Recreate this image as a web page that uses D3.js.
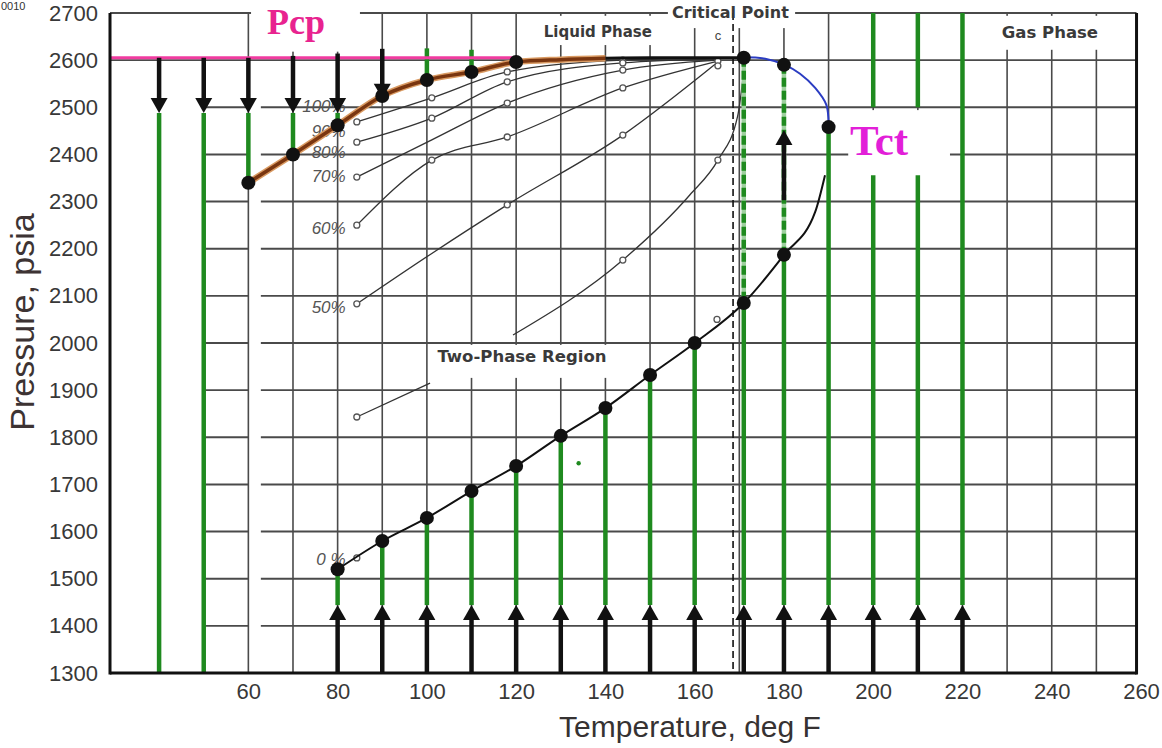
<!DOCTYPE html>
<html><head><meta charset="utf-8">
<script src="https://cdn.jsdelivr.net/npm/d3@7/dist/d3.min.js"></script>
<style>body{margin:0;background:#fff}svg{display:block}</style>
</head><body>
<svg id="chart" width="1162" height="748"></svg>
<script>
// ---------- data ----------
const xTicks = [60,80,100,120,140,160,180,200,220,240,260];
const yTicks = [1300,1400,1500,1600,1700,1800,1900,2000,2100,2200,2300,2400,2500,2600,2700];
const gridT = [60,70,80,90,100,110,120,130,140,150,160,170,180,190,200,210,220,230,240,250];
const gridP = [1400,1500,1600,1700,1800,1900,2000,2100,2200,2300,2400,2500];

const pcpP = 2605;
const bubbleT = [60,70,80,90,100,110,120];
const bubbleP = [2340,2400,2462,2524,2558,2575,2596];
const bubbleTailT = [120,130,140];
const bubbleTailP = [2596,2601,2604];
const critTailT = [140,150,160,171];
const critTailP = [2604,2605,2605,2605];
const critT = 171, critP = 2605;

const dewUpperT = [171,175.8,180.2,183.6,187,189.5,190];
const dewUpperP = [2606,2603,2590,2571,2541,2505,2458];
const dewT = [80,90,100,110,120,130,140,150,160,171,180,187,189.2];
const dewP = [1520,1580,1629,1686,1739,1803,1862,1932,2000,2085,2187,2278,2356];
const dewDotT = [80,90,100,110,120,130,140,150,160,171,180,180,190];
const dewDotP = [1520,1580,1629,1686,1739,1803,1862,1932,2000,2085,2187,2590,2458];

const qT = [84.3,101.1,118,143.9,165.2];
const q90P = [2469,2520,2575,2600,2604];
const q80P = [2426,2477,2554,2594,2602];
const q70P = [2352,2431,2509,2579,2600];
const q60P = [2250,2388,2437,2541,2598];
const q50P = [2083,2190,2293,2441,2596];
const q40aT = [84.3,100.7], q40aP = [1843,1915];
const q40bT = [119.3,143.9,158.9,165.2,169.6,170.8], q40bP = [2017,2176,2314,2388,2480,2560];
const markT = [84.3,84.3,84.3,84.3,84.3,84.3,84.3,101.1,101.1,101.1,118,118,118,118,118,143.9,143.9,143.9,143.9,143.9,143.9,165.2,165.2,165.2,165];
const markP = [2469,2426,2352,2250,2083,1843,1544,2520,2477,2388,2575,2554,2509,2437,2293,2600,2594,2579,2541,2441,2176,2598,2588,2388,2050];
const qLabels = ["100%","90%","80%","70%","60%","50%","0 %"];
const qLabelP = [2490,2437,2392,2342,2231,2064,1529];

const downColT = [40,50,60,70,80,90];
const downStartP = [2605,2605,2605,2609,2614,2624];
const downTipP = [2488,2488,2488,2488,2488,2518];
const downGreenBotP = [1300,1300,2340,2400,2462,2518];
const shortGreenT = [100,110], shortGreenTopP = [2625,2622], shortGreenBotP = [2558,2575];
const upColT = [80,90,100,110,120,130,140,150,160,171,180,190,200,210,220];
const upColTopP = [1520,1580,1629,1686,1739,1803,1862,1932,2000,2085,2187,2458,2356,2356,2700];
const upTipP = 1444;
const dashColT = [171,180], dashColTopP = [2605,2590], dashColBotP = [2085,2187];
const topGreenT = [200,210], topGreenTopP = 2700, topGreenBotP = 2500;
const midArrowT = 180, midArrowFromP = 2303, midArrowTipP = 2452;
const dashedLineT = 168.6;

// ---------- scales ----------
const svg = d3.select('#chart');
const x = d3.scaleLinear().domain([29,260]).range([110,1141]);
const y = d3.scaleLinear().domain([1300,2700]).range([673,13]);
const Tmin = 29, Tmax = 259, Pmin = 1300, Pmax = 2700;
const zip = (T,P) => T.map((t,i)=>[t,P[i]]);
const line = d3.line().x(d=>x(d[0])).y(d=>y(d[1])).curve(d3.curveMonotoneX);
const GREEN = '#1f8a1f', GRID = '#4a4a4a', SANS = "'Liberation Sans', Arial, sans-serif";
const WIDE = "'DejaVu Sans', Verdana, sans-serif";
const SERIF = "'Liberation Serif','Times New Roman',serif";

// ---------- grid ----------
const grid = svg.append('g');
grid.selectAll('.vg').data(gridT).join('line')
  .attr('x1',d=>x(d)).attr('x2',d=>x(d)).attr('y1',y(Pmax)).attr('y2',y(Pmin))
  .attr('stroke',GRID).attr('stroke-width',1.6);
const hSegs = [];
gridP.forEach(p=>{ hSegs.push([p,50,60]); hSegs.push([p,62.8,Tmax]); });
hSegs.push([2600,Tmin,Tmax]); hSegs.push([2700,Tmin,Tmax]);
grid.selectAll('.hg').data(hSegs).join('line')
  .attr('x1',d=>x(d[1])).attr('x2',d=>x(d[2])).attr('y1',d=>y(d[0])).attr('y2',d=>y(d[0]))
  .attr('stroke',GRID).attr('stroke-width',1.9);

// knockouts (white areas behind annotations)
const knock = [[60.6,85,2718,2618],[124.9,152.2,2694,2632],[154,182.5,2721,2668],
               [225,257.5,2694,2622],[194.4,217.2,2494,2354],[100.7,141.5,1996,1926]];
svg.append('g').selectAll('rect').data(knock).join('rect')
  .attr('x',d=>x(d[0])).attr('width',d=>x(d[1])-x(d[0]))
  .attr('y',d=>y(d[2])).attr('height',d=>y(d[3])-y(d[2])).attr('fill','#fff');

// dashed vertical
svg.append('line').attr('x1',x(dashedLineT)).attr('x2',x(dashedLineT))
  .attr('y1',y(Pmax)).attr('y2',y(Pmin)).attr('stroke','#111').attr('stroke-width',1.6)
  .attr('stroke-dasharray','7,4');

// ---------- quality lines ----------
const ql = svg.append('g').attr('fill','none').attr('stroke','#333').attr('stroke-width',1.3);
[q90P,q80P,q70P,q60P,q50P].forEach(P=>ql.append('path').attr('d',line(zip(qT,P))));
ql.append('path').attr('d',line(zip(q40aT,q40aP)));
ql.append('path').attr('d',line(zip(q40bT,q40bP)));
svg.append('g').selectAll('circle').data(zip(markT,markP)).join('circle')
  .attr('cx',d=>x(d[0])).attr('cy',d=>y(d[1])).attr('r',3)
  .attr('fill','#fff').attr('stroke','#555').attr('stroke-width',1.3);
svg.append('g').selectAll('text').data(qLabels).join('text')
  .attr('x',x(81.8)).attr('y',(d,i)=>y(qLabelP[i])).attr('text-anchor','end')
  .attr('font-family',SANS).attr('font-style','italic').attr('font-size',17).attr('fill','#555')
  .text(d=>d);

// ---------- green columns ----------
const gc = svg.append('g').attr('stroke',GREEN).attr('stroke-width',4.5);
downColT.forEach((t,i)=>gc.append('line').attr('x1',x(t)).attr('x2',x(t))
  .attr('y1',y(downTipP[i])).attr('y2',y(downGreenBotP[i])));
shortGreenT.forEach((t,i)=>gc.append('line').attr('x1',x(t)).attr('x2',x(t))
  .attr('y1',y(shortGreenTopP[i])).attr('y2',y(shortGreenBotP[i])));
upColT.forEach((t,i)=>gc.append('line').attr('x1',x(t)).attr('x2',x(t))
  .attr('y1',y(upTipP)).attr('y2',y(upColTopP[i])));
topGreenT.forEach(t=>gc.append('line').attr('x1',x(t)).attr('x2',x(t))
  .attr('y1',y(topGreenTopP)).attr('y2',y(topGreenBotP)));
dashColT.forEach((t,i)=>{
  gc.append('line').attr('x1',x(t)).attr('x2',x(t)).attr('y1',y(dashColTopP[i])).attr('y2',y(dashColBotP[i]))
    .attr('stroke','#9fd09f');
  gc.append('line').attr('x1',x(t)).attr('x2',x(t)).attr('y1',y(dashColTopP[i])).attr('y2',y(dashColBotP[i]))
    .attr('stroke-dasharray','9,4');
});

// pink Pcp line
svg.append('line').attr('x1',x(Tmin)).attr('x2',x(120)).attr('y1',y(pcpP)).attr('y2',y(pcpP))
  .attr('stroke','#f03ca0').attr('stroke-width',3);

// bubble curve
const bub = zip(bubbleT,bubbleP).concat(zip(bubbleTailT,bubbleTailP).slice(1));
svg.append('path').attr('d',line(bub)).attr('fill','none').attr('stroke','#d99a62').attr('stroke-width',6.5);
svg.append('path').attr('d',line(bub)).attr('fill','none').attr('stroke','#7a3610').attr('stroke-width',3.5);
svg.append('path').attr('d',line(zip(critTailT,critTailP))).attr('fill','none').attr('stroke','#111').attr('stroke-width',3);

// dew curves
svg.append('path').attr('d',line(zip(dewT,dewP))).attr('fill','none').attr('stroke','#111').attr('stroke-width',2);
svg.append('path').attr('d',d3.line().x(d=>x(d[0])).y(d=>y(d[1])).curve(d3.curveCatmullRom)(zip(dewUpperT,dewUpperP)))
  .attr('fill','none').attr('stroke','#2b3cc2').attr('stroke-width',2);

// ---------- arrows ----------
const ag = svg.append('g');
function arrow(T, fromP, tipP){
  const x0 = x(T), y0 = y(fromP), y1 = y(tipP);
  const dir = Math.sign(y1-y0), L = 15, W = 8.5;
  ag.append('line').attr('x1',x0).attr('x2',x0).attr('y1',y0).attr('y2',y1-dir*(L-2))
    .attr('stroke','#111').attr('stroke-width',4.5);
  ag.append('path').attr('d',`M${x0},${y1}L${x0-W},${y1-dir*L}L${x0+W},${y1-dir*L}Z`).attr('fill','#111');
}
downColT.forEach((t,i)=>arrow(t,downStartP[i],downTipP[i]));
upColT.forEach(t=>arrow(t,Pmin,upTipP));
arrow(midArrowT,midArrowFromP,midArrowTipP);

// ---------- dots ----------
const dots = zip(bubbleT,bubbleP).concat(zip(dewDotT,dewDotP)).concat([[critT,critP]]);
svg.append('g').selectAll('circle').data(dots).join('circle')
  .attr('cx',d=>x(d[0])).attr('cy',d=>y(d[1])).attr('r',7).attr('fill','#111');

// small green speck
svg.append('circle').attr('cx',x(134)).attr('cy',y(1745)).attr('r',2.2).attr('fill',GREEN);

// ---------- frame ----------
const fr = svg.append('g').attr('stroke','#111').attr('stroke-width',3);
fr.append('line').attr('x1',x(Tmin)).attr('x2',x(Tmin)).attr('y1',y(Pmax)).attr('y2',y(Pmin)+1.5);
fr.append('line').attr('x1',x(Tmin)).attr('x2',x(Tmax)).attr('y1',y(Pmin)).attr('y2',y(Pmin));
fr.append('line').attr('x1',x(Tmax)).attr('x2',x(Tmax)).attr('y1',y(Pmax)).attr('y2',y(Pmin)+1.5);

// ---------- axes labels ----------
const ya = svg.append('g').attr('transform',`translate(${x(Tmin)},0)`)
  .call(d3.axisLeft(y).tickValues(yTicks).tickSize(0).tickPadding(12).tickFormat(d3.format('d')));
ya.select('.domain').remove();
ya.selectAll('text').attr('font-family',SANS).attr('font-size',22).attr('fill','#383838');
const xa = svg.append('g').attr('transform',`translate(0,${y(Pmin)})`)
  .call(d3.axisBottom(x).tickValues(xTicks).tickSize(0).tickPadding(10).tickFormat(d3.format('d')));
xa.select('.domain').remove();
xa.selectAll('text').attr('font-family',SANS).attr('font-size',22).attr('fill','#383838');

svg.append('text').attr('x',690).attr('y',737).attr('text-anchor','middle')
  .attr('font-family',SANS).attr('font-size',30).attr('fill','#363232').text('Temperature, deg F');
svg.append('text').attr('transform','translate(34,322) rotate(-90)').attr('text-anchor','middle')
  .attr('font-family',SANS).attr('font-size',34).attr('fill','#3d3333').text('Pressure, psia');

// annotations
const ann = [
  ['Liquid Phase',138.3,2649,15],['Critical Point',168,2690,16],
  ['Gas Phase',239.6,2647,16.5],['Two-Phase Region',121.3,1960,16.5]];
svg.append('g').selectAll('text').data(ann).join('text')
  .attr('x',d=>x(d[1])).attr('y',d=>y(d[2])).attr('text-anchor','middle')
  .attr('font-family',WIDE).attr('font-weight','bold').attr('font-size',d=>d[3]).attr('fill','#3a3a3a')
  .text(d=>d[0]);
svg.append('text').attr('x',x(165.2)).attr('y',y(2643)).attr('text-anchor','middle')
  .attr('font-family',SANS).attr('font-size',13).attr('fill','#444').text('c');
svg.append('text').attr('x',x(64.2)).attr('y',y(2655))
  .attr('font-family',SERIF).attr('font-weight','bold')
  .attr('font-size',36).attr('fill','#e8238f').text('Pcp');
svg.append('text').attr('x',x(194.8)).attr('y',y(2399))
  .attr('font-family',SERIF).attr('font-weight','bold')
  .attr('font-size',43).attr('fill','#e21fd8').text('Tct');
svg.append('text').attr('x',1).attr('y',10).attr('font-family',SANS).attr('font-size',11)
  .attr('fill','#333').text('0010');
</script>
</body></html>
